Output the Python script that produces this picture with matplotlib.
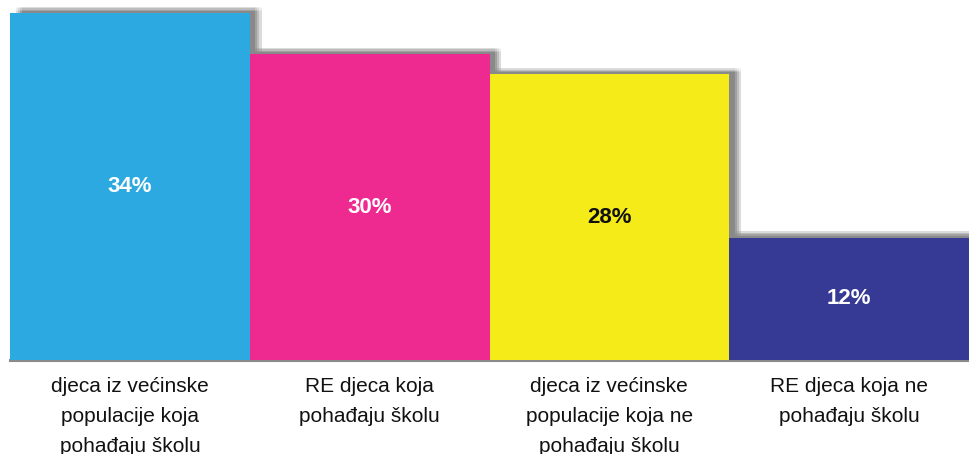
import matplotlib
matplotlib.use("Agg")
from matplotlib import pyplot as plt
from matplotlib import patheffects as pe
from matplotlib import transforms

# %%
# Data

categories = [
    "djeca iz većinske\npopulacije koja\npohađaju školu",
    "RE djeca koja\npohađaju školu",
    "djeca iz većinske\npopulacije koja ne\npohađaju školu",
    "RE djeca koja ne\npohađaju školu",
]
values = [34, 30, 28, 12]
value_labels = ["34%", "30%", "28%", "12%"]
bar_colors = ["#2DA9E1", "#EE2A91", "#F5EB19", "#363A94"]
label_colors = ["white", "white", "#111111", "white"]

# %%
# Figure

fig = plt.figure(figsize=(9.69, 4.54), dpi=100)
ax = fig.add_axes([10 / 969, 94 / 454, 959 / 969, 360 / 454])

# soft drop shadow, faked with a stack of offset layers
shadow = []
for dx in [4, 5.5, 7, 8.5]:
    for dy in [1.5, 2.5, 3.5, 4.5]:
        shadow.append(pe.SimplePatchShadow(offset=(dx, dy), shadow_rgbFace="black", alpha=0.035))
shadow.append(pe.Normal())

x = list(range(len(values)))
bars = ax.bar(x, values, width=1.0, color=bar_colors, zorder=3)
for b in bars:
    b.set_path_effects(shadow)

for i, (v, lab) in enumerate(zip(values, value_labels)):
    ax.text(i, v / 2, lab, ha="center", va="center", fontsize=16,
            fontweight="bold", color=label_colors[i], family="Liberation Sans",
            zorder=4)

trans = transforms.blended_transform_factory(ax.transData, ax.transAxes)
for i, cat in enumerate(categories):
    ax.text(i, -0.047, cat, ha="center", va="top", fontsize=15,
            family="Liberation Sans", color="#111111", linespacing=1.72,
            transform=trans, clip_on=False)

ax.set_xlim(-0.5, 3.5)
ax.set_ylim(0, 35.3)
ax.set_xticks([])
ax.set_yticks([])
for s in ["top", "left", "right"]:
    ax.spines[s].set_visible(False)
ax.spines["bottom"].set_color("#8a8a8a")
ax.spines["bottom"].set_linewidth(2.2)
ax.spines["bottom"].set_zorder(2)

fig.savefig("out.png", dpi=100)
